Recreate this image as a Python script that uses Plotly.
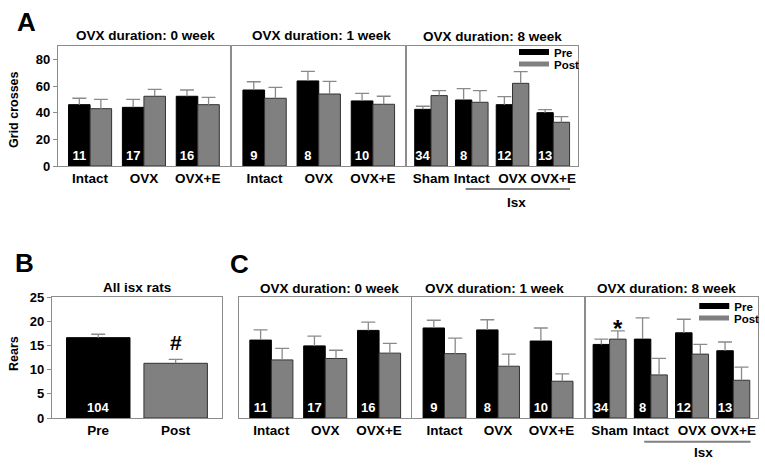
import plotly.graph_objects as go

W, H = 765, 469
FONT = "Arial, 'Liberation Sans', sans-serif"
BLACK = "#000000"
GRAY = "#808080"
EDGE = "#333333"
ERR = "#8a8a8a"
BOX = "#8c8c8c"

# ---------------- data ----------------
cats3 = ["Intact", "OVX", "OVX+E"]
cats4 = ["Sham", "Intact", "OVX", "OVX+E"]

# Panel A: grid crosses (mean, SEM)
A0_pre = [46.0, 44.0, 52.3]
A0_pre_sem = [4.8, 6.0, 4.7]
A0_post = [43.0, 52.3, 46.0]
A0_post_sem = [7.0, 5.2, 5.5]
A0_n = ["11", "17", "16"]

A1_pre = [57.0, 63.8, 48.8]
A1_pre_sem = [6.2, 7.2, 5.7]
A1_post = [50.8, 54.0, 46.3]
A1_post_sem = [8.2, 9.5, 6.0]
A1_n = ["9", "8", "10"]

A8_pre = [42.5, 49.5, 46.0, 40.0]
A8_pre_sem = [2.3, 8.5, 6.0, 2.3]
A8_post = [52.8, 47.8, 62.0, 32.8]
A8_post_sem = [3.7, 8.7, 8.8, 4.2]
A8_n = ["34", "8", "12", "13"]

# Panel B: rears, all isx rats
B_cats = ["Pre", "Post"]
B_vals = [16.6, 11.3]
B_sem = [0.7, 0.8]
B_n = ["104", ""]

# Panel C: rears
C0_pre = [16.1, 14.9, 18.1]
C0_pre_sem = [2.1, 2.0, 1.7]
C0_post = [12.0, 12.3, 13.4]
C0_post_sem = [2.4, 1.7, 2.0]
C0_n = ["11", "17", "16"]

C1_pre = [18.6, 18.2, 15.9]
C1_pre_sem = [1.6, 2.1, 2.7]
C1_post = [13.3, 10.7, 7.6]
C1_post_sem = [3.2, 2.5, 1.5]
C1_n = ["9", "8", "10"]

C8_pre = [15.2, 16.3, 17.6, 13.9]
C8_pre_sem = [1.1, 4.4, 2.8, 1.8]
C8_post = [16.3, 8.9, 13.2, 7.8]
C8_post_sem = [1.7, 3.4, 2.0, 2.7]
C8_n = ["34", "8", "12", "13"]

A_yticks = [0, 20, 40, 60, 80]
B_yticks = [0, 5, 10, 15, 20, 25]


def fx(px):
    return px / W


def fy(py):
    return 1 - py / H


def bold(size, color=BLACK):
    return dict(family=FONT, size=size, color=color, weight="bold")


fig = go.Figure()

panels = [
    dict(box=(58, 231, 46, 166), xr=(-0.6, 2.6), yr=(0, 90), cats=cats3,
         pre=A0_pre, pre_sem=A0_pre_sem, post=A0_post, post_sem=A0_post_sem,
         n=A0_n, yticks=A_yticks),
    dict(box=(233, 407, 46, 166), xr=(-0.6, 2.6), yr=(0, 90), cats=cats3,
         pre=A1_pre, pre_sem=A1_pre_sem, post=A1_post, post_sem=A1_post_sem,
         n=A1_n, yticks=None),
    dict(box=(409, 580, 46, 166), xr=(-0.58, 3.6), yr=(0, 90), cats=cats4,
         pre=A8_pre, pre_sem=A8_pre_sem, post=A8_post, post_sem=A8_post_sem,
         n=A8_n, yticks=None),
    dict(box=(52, 223, 297, 418), xr=(-0.6, 1.6), yr=(0, 25), cats=B_cats,
         single=True, yticks=B_yticks),
    dict(box=(240, 413, 297, 418), xr=(-0.6, 2.6), yr=(0, 25), cats=cats3,
         pre=C0_pre, pre_sem=C0_pre_sem, post=C0_post, post_sem=C0_post_sem,
         n=C0_n, yticks=None),
    dict(box=(414, 586, 297, 418), xr=(-0.6, 2.6), yr=(0, 25), cats=cats3,
         pre=C1_pre, pre_sem=C1_pre_sem, post=C1_post, post_sem=C1_post_sem,
         n=C1_n, yticks=None),
    dict(box=(588, 761, 297, 418), xr=(-0.58, 3.6), yr=(0, 25), cats=cats4,
         pre=C8_pre, pre_sem=C8_pre_sem, post=C8_post, post_sem=C8_post_sem,
         n=C8_n, yticks=None),
]

layout_axes = {}
CAP_PX = 7.0

for i, p in enumerate(panels, start=1):
    xa = "x" if i == 1 else f"x{i}"
    ya = "y" if i == 1 else f"y{i}"
    l, r, t, b = p["box"]
    ppu = (r - l) / (p["xr"][1] - p["xr"][0])
    cw = CAP_PX / ppu
    idx = list(range(len(p["cats"])))

    ex, ey = [], []
    if p.get("single"):
        fig.add_trace(go.Bar(
            x=idx, y=B_vals, width=0.82,
            marker=dict(color=[BLACK, GRAY], line=dict(color=[BLACK, EDGE], width=1)),
            text=B_n, textposition="inside", insidetextanchor="start",
            textangle=0, constraintext="none", textfont=bold(13, "white"),
            xaxis=xa, yaxis=ya, showlegend=False, hoverinfo="skip"))
        for c, v, s in zip(idx, B_vals, B_sem):
            ex += [c, c, None, c - cw, c + cw, None]
            ey += [v, v + s, None, v + s, v + s, None]
    else:
        fig.add_trace(go.Bar(
            x=idx, y=p["pre"], width=0.4, offset=-0.4,
            marker=dict(color=BLACK, line=dict(color=BLACK, width=1)),
            text=p["n"], textposition="inside", insidetextanchor="start",
            textangle=0, constraintext="none", textfont=bold(13, "white"),
            xaxis=xa, yaxis=ya, showlegend=False, hoverinfo="skip"))
        fig.add_trace(go.Bar(
            x=idx, y=p["post"], width=0.4, offset=0.0,
            marker=dict(color=GRAY, line=dict(color=EDGE, width=1)),
            xaxis=xa, yaxis=ya, showlegend=False, hoverinfo="skip"))
        for c, v, s in zip(idx, p["pre"], p["pre_sem"]):
            cc = c - 0.2
            ex += [cc, cc, None, cc - cw, cc + cw, None]
            ey += [v, v + s, None, v + s, v + s, None]
        for c, v, s in zip(idx, p["post"], p["post_sem"]):
            cc = c + 0.2
            ex += [cc, cc, None, cc - cw, cc + cw, None]
            ey += [v, v + s, None, v + s, v + s, None]
    fig.add_trace(go.Scatter(x=ex, y=ey, mode="lines",
                             line=dict(color=ERR, width=1.3),
                             xaxis=xa, yaxis=ya, showlegend=False, hoverinfo="skip"))

    xkey = "xaxis" if i == 1 else f"xaxis{i}"
    ykey = "yaxis" if i == 1 else f"yaxis{i}"
    layout_axes[xkey] = dict(
        domain=[fx(l), fx(r)], range=list(p["xr"]), anchor=ya, automargin=False,
        showline=True, mirror=True, linecolor=BOX, linewidth=1,
        showgrid=False, zeroline=False, ticks="",
        tickmode="array", tickvals=idx, ticktext=p["cats"], tickangle=0,
        tickfont=bold(13.5), fixedrange=True)
    yt = p["yticks"]
    layout_axes[ykey] = dict(
        domain=[fy(b), fy(t)], range=list(p["yr"]), anchor=xa, automargin=False,
        showline=True, mirror=True, linecolor=BOX, linewidth=1,
        showgrid=False, zeroline=False,
        ticks="outside" if yt else "", ticklen=4, tickcolor=BOX,
        tickmode="array", tickvals=yt if yt else [],
        showticklabels=bool(yt), tickfont=bold(13), fixedrange=True)

# legend entries (A3 and C3)
for name, color, width, xa, ya, lg in [
        ("Pre", BLACK, 6, "x3", "y3", "legend"),
        ("Post", GRAY, 5, "x3", "y3", "legend2"),
        ("Pre", BLACK, 6, "x7", "y7", "legend3"),
        ("Post", GRAY, 5, "x7", "y7", "legend4")]:
    fig.add_trace(go.Scatter(x=[None], y=[None], mode="lines", name=name,
                             line=dict(color=color, width=width),
                             xaxis=xa, yaxis=ya, legend=lg, showlegend=True))


def leg(px, py):
    return dict(x=fx(px), y=fy(py), xanchor="left", yanchor="middle",
                bgcolor="rgba(0,0,0,0)", borderwidth=0, font=bold(11.5),
                itemwidth=30, tracegroupgap=0)


annotations = []


def ann(text, px, py, size, angle=0, xanchor="center", yanchor="middle"):
    annotations.append(dict(text=text, x=fx(px), y=fy(py), xref="paper", yref="paper",
                            showarrow=False, font=bold(size), textangle=angle,
                            xanchor=xanchor, yanchor=yanchor))


# panel letters
ann("A", 26.5, 22, 26)
ann("B", 24.5, 263, 26)
ann("C", 240.5, 264, 26)
# panel titles
ann("OVX duration: 0 week", 146, 35, 13.5)
ann("OVX duration: 1 week", 323, 35, 13.5)
ann("OVX duration: 8 week", 494.5, 36, 13.5)
ann("All isx rats", 138, 287, 13.5)
ann("OVX duration: 0 week", 331, 288, 13.5)
ann("OVX duration: 1 week", 496, 288, 13.5)
ann("OVX duration: 8 week", 669, 288, 13.5)
# y titles
ann("Grid crosses", 14, 110, 12.5, angle=-90)
ann("Rears", 14, 353, 12.5, angle=-90)

# significance markers in data coords
annotations.append(dict(text="#", x=1, y=15.5, xref="x4", yref="y4", showarrow=False,
                        font=bold(21), xanchor="center", yanchor="middle"))
annotations.append(dict(text="*", x=0.2, y=18.4, xref="x7", yref="y7", showarrow=False,
                        font=bold(24), xanchor="center", yanchor="middle"))
# Isx labels
annotations.append(dict(text="Isx", x=2.1, y=fy(202), xref="x3", yref="paper", showarrow=False,
                        font=bold(13.5), xanchor="center", yanchor="middle"))
annotations.append(dict(text="Isx", x=2.27, y=fy(452), xref="x7", yref="paper", showarrow=False,
                        font=bold(13.5), xanchor="center", yanchor="middle"))

shapes = [
    dict(type="line", xref="x3", yref="paper", x0=0.85, x1=3.41, y0=fy(189), y1=fy(189),
         line=dict(color=GRAY, width=2)),
    dict(type="line", xref="x7", yref="paper", x0=0.84, x1=3.42, y0=fy(441.7), y1=fy(441.7),
         line=dict(color=GRAY, width=2)),
]

fig.update_layout(
    width=W, height=H, margin=dict(l=0, r=0, t=0, b=0, pad=0), autosize=False,
    paper_bgcolor="white", plot_bgcolor="white",
    barmode="overlay", font=dict(family=FONT, color=BLACK),
    annotations=annotations, shapes=shapes,
    legend=leg(516, 52), legend2=leg(516, 64),
    legend3=leg(697, 306), legend4=leg(697, 318),
    **layout_axes,
)

fig.write_html(
    "out.html",
    config={"displayModeBar": False},
    post_script="document.body.style.margin='0';document.body.style.padding='0';"
)
